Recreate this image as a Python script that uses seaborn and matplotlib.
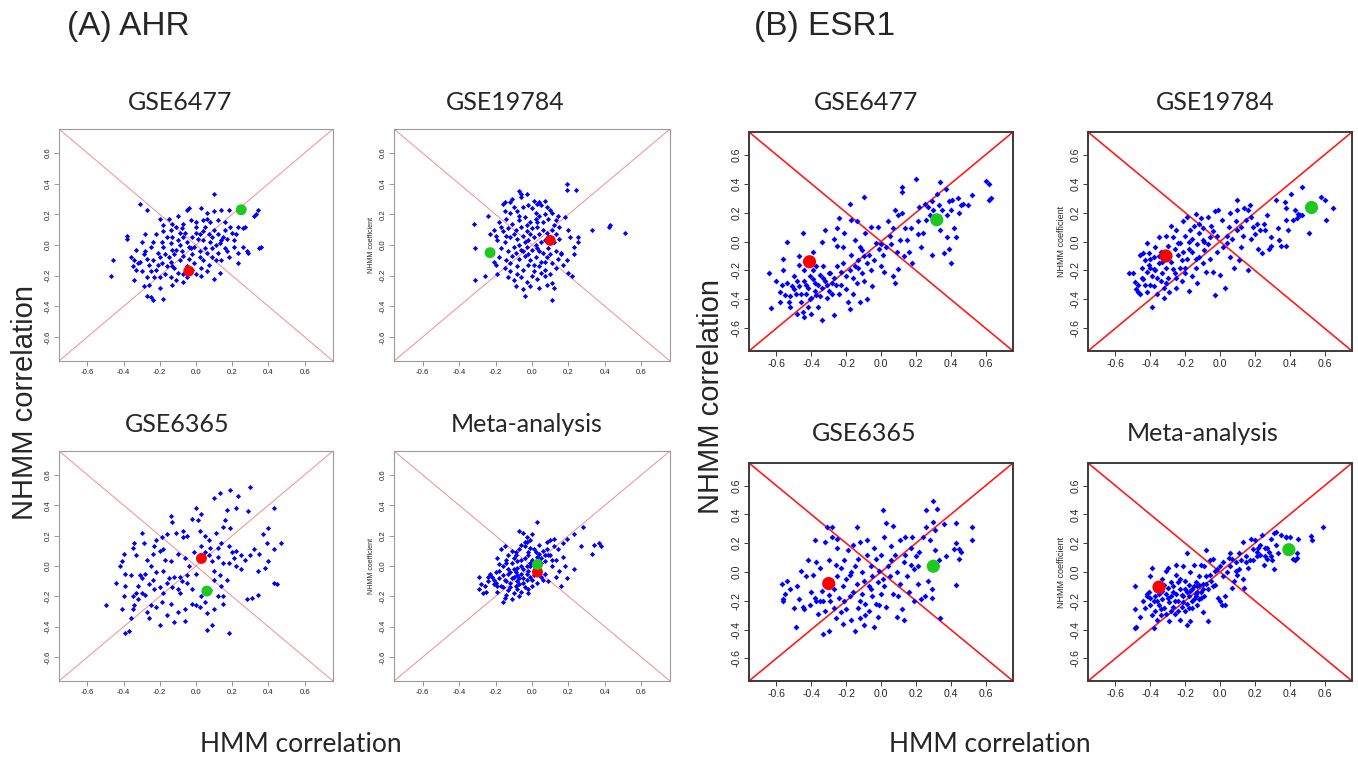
import numpy as np
import pandas as pd
import matplotlib
matplotlib.use('Agg')
import matplotlib.pyplot as plt
import seaborn as sns

sns.set_theme(style='white')
plt.rcParams['font.family'] = ['Liberation Sans', 'DejaVu Sans']

W, H = 1358, 762

# ---- data: (HMM correlation, NHMM coefficient) per gene set ----
ahr_gse6477 = [
    (-0.47, -0.20), (-0.46, -0.10), (-0.38, 0.06), (-0.38, 0.04), (-0.31, 0.27), (-0.27, 0.23), (-0.20, 0.17),
    (-0.15, 0.17), (-0.10, 0.19), (-0.05, 0.23), (-0.04, 0.24), (0.03, 0.24), (0.10, 0.33), (0.10, 0.22),
    (0.14, 0.23), (0.18, 0.23), (0.34, 0.23), (0.32, 0.19), (0.23, 0.12), (0.35, -0.02), (0.36, -0.01),
    (0.28, -0.04), (0.23, -0.12), (0.10, -0.22), (0.13, -0.18), (0.03, -0.20), (0.00, -0.19), (-0.07, -0.24),
    (-0.11, -0.23), (-0.13, -0.26), (-0.18, -0.35), (-0.24, -0.36), (-0.25, -0.34), (-0.27, -0.33),
    (-0.29, -0.27), (-0.34, -0.23), (-0.35, -0.14), (-0.36, -0.08), (-0.33, -0.03), (-0.31, -0.11),
    (-0.26, -0.13), (-0.24, -0.10), (-0.21, -0.05), (-0.18, -0.01), (-0.16, 0.05), (-0.14, 0.10),
    (-0.11, 0.12), (-0.07, 0.14), (-0.03, 0.16), (0.00, 0.12), (0.04, 0.09), (0.07, 0.07), (0.10, 0.10),
    (0.16, 0.10), (0.17, 0.04), (0.13, 0.01), (0.09, -0.02), (0.06, -0.05), (0.02, -0.04), (-0.01, -0.01),
    (-0.05, 0.02), (-0.09, 0.00), (-0.13, -0.03), (-0.15, -0.08), (-0.19, -0.12), (-0.22, -0.16),
    (-0.17, -0.19), (-0.13, -0.14), (-0.09, -0.10), (-0.04, -0.09), (-0.01, -0.12), (0.04, -0.10),
    (0.09, -0.08), (0.12, -0.05), (0.17, -0.04), (0.21, -0.01), (0.21, 0.03), (0.22, 0.07), (0.26, -0.01),
    (0.12, 0.16), (0.06, 0.17), (0.00, 0.15), (-0.14, 0.01), (-0.25, -0.01), (-0.28, -0.04), (-0.25, -0.17),
    (-0.27, -0.21), (-0.33, -0.16), (-0.20, -0.21), (-0.16, -0.14), (-0.05, -0.14), (-0.02, -0.16),
    (-0.13, 0.05), (-0.07, 0.05), (0.04, 0.03), (0.09, 0.05), (0.15, 0.05), (-0.03, -0.02), (0.02, 0.07),
    (-0.28, 0.07), (-0.22, 0.07), (-0.19, 0.02), (-0.12, -0.06), (-0.08, -0.04), (-0.06, 0.08), (0.01, 0.04),
    (0.05, 0.12), (0.08, 0.15), (0.12, 0.07), (0.14, -0.10), (0.18, -0.08), (0.20, 0.08), (0.03, -0.15),
    (-0.02, -0.06), (-0.10, -0.18), (-0.14, -0.21), (-0.23, -0.21), (-0.30, -0.17), (-0.32, -0.12),
    (-0.29, -0.06), (-0.26, -0.26), (-0.20, -0.28), (-0.07, -0.19), (0.07, -0.13), (0.11, 0.00),
    (0.16, 0.15), (0.06, 0.21), (-0.13, 0.14), (-0.18, 0.09), (-0.09, 0.08), (0.00, 0.08), (0.27, 0.12),
    (0.26, 0.11), (0.33, 0.20), (0.23, -0.05), (0.29, -0.05),
    (-0.24, 0.02), (-0.21, -0.13), (-0.17, -0.06), (-0.14, -0.11), (-0.11, -0.03), (-0.10, 0.03),
    (-0.07, -0.07), (-0.04, -0.01), (-0.02, 0.05), (0.02, -0.08), (0.05, -0.02), (0.08, 0.02), (0.11, -0.10),
    (0.14, 0.03), (0.16, -0.02), (-0.18, 0.13), (-0.08, 0.11), (0.04, 0.16), (-0.27, -0.09), (-0.20, -0.08),
    (-0.12, -0.15), (-0.05, -0.21), (0.06, -0.17), (0.19, 0.12), (-0.34, -0.10), (-0.30, 0.02),
]
ahr_gse19784 = [
    (-0.32, 0.14), (-0.31, -0.02), (-0.31, -0.23), (-0.26, -0.20), (-0.24, 0.19), (-0.23, 0.07), (-0.20, 0.06),
    (-0.21, -0.11), (-0.19, -0.19), (0.19, 0.40), (0.19, 0.36), (0.24, 0.36), (0.33, 0.10), (0.42, 0.12),
    (0.43, 0.13), (0.51, 0.08), (0.18, 0.18), (0.20, 0.10), (0.21, 0.05), (0.25, 0.05), (0.25, 0.02),
    (0.23, -0.01), (0.23, -0.06), (0.22, -0.20), (0.20, -0.18), (0.19, -0.10), (0.16, -0.05), (0.11, -0.36),
    (-0.04, -0.33), (-0.07, 0.35), (-0.06, 0.33), (-0.03, 0.33), (-0.15, 0.28), (-0.12, 0.28), (0.03, 0.27),
    (0.07, 0.29), (0.04, 0.28), (0.10, 0.23),
    (-0.15, 0.22), (-0.12, 0.21), (-0.10, 0.25), (-0.08, 0.22), (-0.05, 0.25), (-0.02, 0.26), (0.00, 0.24),
    (0.02, 0.21), (0.05, 0.26), (0.08, 0.25), (-0.18, 0.15), (-0.14, 0.17), (-0.11, 0.14), (-0.07, 0.16),
    (-0.04, 0.18), (-0.01, 0.15), (0.02, 0.17), (0.04, 0.19), (0.06, 0.15), (0.09, 0.17), (0.12, 0.13),
    (0.14, 0.19), (-0.16, 0.09), (-0.13, 0.11), (-0.09, 0.10), (-0.06, 0.12), (-0.03, 0.09), (0.00, 0.11),
    (0.03, 0.12), (0.06, 0.10), (0.08, 0.08), (0.11, 0.10), (0.13, 0.07), (-0.19, 0.03), (-0.15, 0.02),
    (-0.12, 0.05), (-0.08, 0.04), (-0.05, 0.06), (-0.02, 0.03), (0.01, 0.05), (0.04, 0.07), (0.07, 0.03),
    (0.12, 0.02), (0.15, 0.04), (-0.17, -0.02), (-0.13, -0.04), (-0.10, -0.01), (-0.06, -0.03),
    (-0.03, -0.01), (0.00, -0.03), (0.03, -0.02), (0.06, -0.05), (0.09, -0.02), (0.13, -0.04), (0.16, -0.06),
    (-0.18, -0.08), (-0.14, -0.10), (-0.11, -0.07), (-0.07, -0.09), (-0.04, -0.07), (-0.01, -0.10),
    (0.02, -0.08), (0.05, -0.11), (0.08, -0.08), (0.11, -0.12), (0.14, -0.09), (-0.15, -0.15), (-0.12, -0.17),
    (-0.08, -0.14), (-0.05, -0.16), (-0.02, -0.13), (0.01, -0.17), (0.04, -0.14), (0.07, -0.16),
    (0.10, -0.19), (0.13, -0.15), (-0.13, -0.21), (-0.10, -0.23), (-0.06, -0.21), (-0.03, -0.24),
    (0.00, -0.20), (0.03, -0.22), (0.07, -0.20), (0.11, -0.25), (-0.09, -0.27), (-0.05, -0.29),
    (-0.01, -0.27), (0.04, -0.28), (0.08, -0.26), (-0.11, 0.30), (-0.06, 0.31), (0.01, 0.29), (-0.16, 0.27),
    (0.11, 0.21), (0.15, 0.12), (-0.21, 0.10), (-0.20, -0.13), (0.17, -0.13), (0.12, -0.28),
    (-0.14, 0.06), (-0.10, 0.07), (-0.07, 0.00), (-0.04, 0.02), (-0.01, 0.07), (0.02, 0.00), (0.05, 0.02),
    (0.09, 0.05), (-0.09, -0.05), (-0.05, -0.04), (-0.02, -0.06), (0.01, -0.13), (0.04, -0.04), (0.07, -0.11),
    (-0.07, 0.19), (-0.03, 0.13), (0.03, 0.15), (0.07, 0.20), (-0.12, -0.12), (0.10, -0.06), (-0.08, -0.19),
    (0.05, -0.18), (0.13, 0.16), (-0.17, 0.12),
]
ahr_gse6365 = [
    (-0.50, -0.26), (-0.44, -0.11), (-0.42, 0.00), (-0.41, 0.03), (-0.40, 0.08), (-0.39, -0.05), (-0.39, -0.13),
    (-0.40, -0.20), (-0.41, -0.28), (-0.39, -0.44), (-0.37, -0.43), (-0.36, -0.34), (-0.35, -0.28),
    (-0.34, -0.26), (-0.35, 0.12), (-0.33, 0.07), (-0.31, -0.06), (-0.32, -0.13), (-0.30, -0.18),
    (-0.32, -0.22), (-0.30, 0.22), (-0.29, 0.15), (-0.28, -0.05), (-0.27, -0.30), (-0.26, -0.34),
    (-0.25, -0.26), (-0.24, 0.08), (-0.24, -0.09), (-0.23, -0.15), (-0.22, 0.17), (-0.20, -0.39),
    (-0.19, 0.19), (-0.18, 0.11), (-0.17, 0.04), (-0.18, -0.03), (-0.16, -0.11), (-0.19, -0.24),
    (-0.16, -0.32), (-0.14, 0.33), (-0.13, 0.29), (-0.12, -0.37), (-0.11, 0.22), (-0.10, 0.08), (-0.09, -0.07),
    (-0.09, -0.18), (-0.07, 0.23), (-0.06, -0.36), (-0.05, 0.20), (-0.04, 0.00), (-0.05, -0.11), (-0.02, 0.31),
    (-0.02, -0.25), (-0.01, 0.09), (0.00, 0.38), (0.01, 0.30), (0.02, 0.23), (0.03, 0.34), (0.03, -0.20),
    (0.02, -0.27), (0.06, -0.31), (0.06, -0.42), (0.07, 0.17), (0.09, 0.03), (0.09, -0.39), (0.10, -0.28),
    (0.10, -0.09), (0.10, 0.45), (0.11, 0.22), (0.12, 0.06), (0.13, 0.48), (0.14, -0.13), (0.15, -0.20),
    (0.15, 0.26), (0.17, 0.37), (0.17, -0.09), (0.18, 0.13), (0.18, -0.44), (0.19, 0.25), (0.19, 0.50),
    (0.21, 0.05), (0.22, 0.38), (0.22, 0.00), (0.22, 0.10), (0.23, 0.46), (0.25, 0.07), (0.27, 0.04),
    (0.28, -0.22), (0.29, 0.36), (0.30, 0.52), (0.31, -0.21), (0.32, 0.11), (0.34, -0.19), (0.34, -0.03),
    (0.35, 0.08), (0.37, 0.21), (0.38, -0.01), (0.39, 0.15), (0.40, 0.03), (0.40, 0.25), (0.43, 0.11),
    (0.43, 0.38), (0.43, -0.11), (0.45, -0.12), (0.47, 0.15),
    (-0.12, -0.07), (-0.15, -0.08), (-0.08, -0.10), (-0.13, -0.14), (-0.10, -0.15), (-0.05, -0.06),
    (-0.02, -0.15), (0.00, -0.26), (0.05, 0.09), (0.08, 0.12), (0.12, 0.12), (0.15, 0.02), (0.18, 0.02),
    (0.20, 0.09), (0.10, -0.03), (0.13, -0.06), (0.08, -0.16), (0.12, -0.20), (0.15, -0.25), (-0.20, 0.10),
    (-0.22, -0.04), (-0.26, -0.12), (-0.28, -0.19), (-0.33, -0.18), (-0.36, -0.06), (-0.34, 0.15),
    (-0.27, 0.04), (-0.07, 0.19), (-0.16, 0.21), (0.03, 0.13), (-0.18, -0.18), (-0.14, -0.25), (-0.22, -0.27),
    (-0.06, -0.28), (0.05, -0.24),
    (-0.30, -0.08), (-0.25, 0.00), (-0.20, -0.14), (-0.14, 0.03), (-0.06, 0.05), (0.00, -0.05), (0.07, 0.07),
    (0.14, 0.15), (0.25, -0.02), (-0.35, -0.20), (-0.10, -0.30), (0.05, 0.20), (-0.23, 0.13), (0.16, 0.30),
    (0.30, 0.07),
]
ahr_meta = [
    (-0.29, -0.07), (-0.29, -0.15), (-0.28, -0.12), (-0.27, -0.18), (-0.25, -0.17), (-0.24, -0.07),
    (-0.23, -0.05), (-0.21, -0.09), (-0.20, -0.11), (-0.19, 0.05), (-0.19, -0.17), (-0.18, -0.03),
    (-0.18, 0.01), (-0.17, 0.11), (-0.17, -0.13), (-0.16, -0.24), (-0.16, -0.06), (-0.15, 0.13),
    (-0.15, -0.21), (-0.14, 0.04), (-0.14, -0.10), (-0.13, 0.07), (-0.13, -0.02), (-0.12, -0.14),
    (-0.11, 0.10), (-0.11, 0.02), (-0.10, -0.07), (-0.10, -0.18), (-0.09, 0.07), (-0.08, -0.01),
    (-0.08, -0.10), (-0.07, 0.23), (-0.07, 0.11), (-0.07, -0.20), (-0.06, 0.04), (-0.06, -0.05),
    (-0.05, 0.22), (-0.05, -0.11), (-0.04, 0.13), (-0.03, 0.00), (-0.03, 0.16), (-0.02, -0.15), (-0.02, 0.07),
    (-0.01, -0.07), (-0.01, 0.17), (-0.01, 0.02), (0.00, -0.13), (0.01, 0.11), (0.02, -0.03), (0.03, 0.29),
    (0.03, 0.06), (0.03, -0.11), (0.04, 0.14), (0.05, -0.07), (0.06, 0.10), (0.07, 0.03), (0.07, -0.05),
    (0.08, 0.16), (0.09, 0.07), (0.09, -0.10), (0.10, 0.17), (0.11, 0.00), (0.12, 0.13), (0.12, 0.18),
    (0.13, 0.04), (0.13, -0.07), (0.14, 0.11), (0.15, -0.03), (0.16, -0.13), (0.17, 0.15), (0.17, 0.06),
    (0.18, 0.00), (0.19, 0.18), (0.19, -0.08), (0.23, -0.02), (0.23, 0.21), (0.27, 0.13), (0.28, 0.26),
    (0.33, 0.08), (0.34, 0.14), (0.37, 0.15), (0.38, 0.13),
    (-0.12, -0.04), (-0.09, -0.04), (-0.05, -0.02), (-0.02, -0.03), (0.00, 0.04), (-0.04, 0.05),
    (-0.08, 0.03), (-0.11, -0.08), (-0.07, -0.08), (-0.03, -0.09), (0.01, -0.06), (-0.15, -0.09),
    (-0.18, -0.08), (-0.13, -0.16), (-0.09, -0.13), (-0.04, -0.14), (-0.06, -0.17), (0.02, 0.09),
    (0.05, 0.02), (-0.01, 0.12), (-0.06, 0.14), (-0.10, 0.05), (-0.16, 0.00), (-0.21, -0.12), (-0.14, -0.19),
    (-0.11, -0.22), (0.08, 0.11), (0.10, 0.07), (0.04, -0.02), (-0.02, -0.18), (0.00, 0.21), (-0.03, 0.19),
    (0.05, 0.05), (-0.20, -0.04), (-0.24, -0.10), (-0.07, -0.12), (0.06, -0.09),
    (-0.10, -0.02), (-0.06, 0.00), (-0.03, -0.05), (-0.01, 0.00), (-0.08, -0.06), (-0.13, -0.05),
    (-0.16, -0.14), (-0.12, -0.11), (-0.05, -0.08), (-0.02, 0.09), (0.02, 0.01), (0.04, 0.08), (-0.09, 0.09),
    (-0.14, 0.02), (-0.19, -0.13), (-0.22, -0.07), (-0.08, -0.15), (0.00, -0.09), (0.07, 0.07), (0.11, 0.04),
    (-0.04, 0.16), (-0.26, -0.13),
]
esr1_gse6477 = [
    (-0.64, -0.22), (-0.63, -0.46), (-0.60, -0.27), (-0.58, -0.35), (-0.58, -0.42), (-0.56, -0.12),
    (-0.56, -0.20), (-0.55, -0.37), (-0.54, -0.29), (-0.54, 0.00), (-0.53, -0.42), (-0.52, -0.45),
    (-0.51, -0.31), (-0.50, -0.24), (-0.49, -0.36), (-0.48, -0.50), (-0.47, -0.31), (-0.47, -0.10),
    (-0.47, -0.16), (-0.46, -0.42), (-0.45, 0.06), (-0.45, -0.49), (-0.44, -0.52), (-0.44, -0.20),
    (-0.43, -0.30), (-0.43, -0.36), (-0.42, -0.45), (-0.41, -0.24), (-0.40, -0.39), (-0.40, -0.50),
    (-0.39, -0.07), (-0.39, -0.20), (-0.38, -0.29), (-0.37, -0.37), (-0.37, -0.17), (-0.36, -0.45),
    (-0.35, -0.23), (-0.34, -0.32), (-0.34, -0.54), (-0.34, 0.00), (-0.33, -0.17), (-0.32, -0.27),
    (-0.32, 0.08), (-0.31, -0.39), (-0.30, -0.34), (-0.29, -0.22), (-0.28, -0.29), (-0.27, 0.02),
    (-0.27, -0.51), (-0.26, -0.30), (-0.25, -0.03), (-0.25, -0.17), (-0.25, 0.09), (-0.24, 0.16),
    (-0.24, -0.36), (-0.23, -0.21), (-0.22, -0.04), (-0.21, 0.06), (-0.20, -0.24), (-0.19, -0.42),
    (-0.18, -0.47), (-0.18, 0.26), (-0.17, -0.09), (-0.17, 0.15), (-0.16, -0.36), (-0.15, 0.01),
    (-0.15, -0.17), (-0.14, 0.14), (-0.14, -0.29), (-0.13, -0.13), (-0.12, -0.42), (-0.12, -0.04),
    (-0.11, -0.22), (-0.11, -0.06), (-0.10, -0.27), (-0.10, 0.31), (-0.09, 0.06), (-0.08, -0.15),
    (-0.08, -0.40), (-0.07, -0.09), (-0.06, 0.10), (-0.05, -0.31), (-0.04, -0.13), (-0.03, -0.01),
    (-0.02, 0.10), (-0.01, -0.05), (0.00, -0.17), (0.01, -0.09), (0.02, -0.21), (0.03, -0.04), (0.04, 0.14),
    (0.06, -0.02), (0.07, -0.24), (0.07, 0.09), (0.08, 0.22), (0.08, -0.29), (0.09, -0.07), (0.10, 0.18),
    (0.10, -0.19), (0.11, 0.01), (0.12, 0.38), (0.12, 0.34), (0.12, 0.20), (0.13, -0.10), (0.14, 0.09),
    (0.15, 0.01), (0.16, -0.07), (0.17, 0.09), (0.18, -0.15), (0.20, 0.43), (0.21, 0.05), (0.21, 0.14),
    (0.22, 0.24), (0.23, -0.04), (0.24, 0.06), (0.25, 0.26), (0.26, 0.15), (0.27, 0.24), (0.29, -0.09),
    (0.29, 0.28), (0.30, 0.22), (0.32, 0.33), (0.34, 0.08), (0.34, 0.41), (0.35, 0.22), (0.36, -0.08),
    (0.37, 0.36), (0.38, 0.18), (0.38, 0.03), (0.39, 0.28), (0.39, -0.05), (0.40, -0.15), (0.41, 0.29),
    (0.42, 0.09), (0.43, 0.03), (0.44, 0.30), (0.46, 0.25), (0.47, 0.26), (0.50, 0.25), (0.52, 0.32),
    (0.60, 0.42), (0.62, 0.40), (0.62, 0.29), (0.63, 0.30),
    (-0.52, -0.38), (-0.50, -0.33), (-0.48, -0.27), (-0.46, -0.36), (-0.44, -0.27), (-0.42, -0.32),
    (-0.41, -0.40), (-0.39, -0.26), (-0.38, -0.34), (-0.36, -0.30), (-0.35, -0.38), (-0.33, -0.25),
    (-0.31, -0.30), (-0.30, -0.22), (-0.28, -0.36), (-0.27, -0.25), (-0.23, -0.30), (-0.22, -0.15),
    (-0.20, -0.33), (-0.18, -0.20), (-0.16, -0.25), (-0.13, -0.18), (-0.10, -0.10), (-0.06, -0.20),
    (0.00, -0.02), (0.05, 0.04), (0.28, 0.18), (0.33, 0.25), (0.40, 0.22), (0.45, 0.20), (-0.57, -0.30),
    (-0.43, -0.12),
]
esr1_gse19784 = [
    (-0.52, -0.22), (-0.50, -0.22), (-0.49, -0.28), (-0.48, -0.33), (-0.47, -0.35), (-0.46, -0.09),
    (-0.46, -0.36), (-0.45, -0.18), (-0.44, -0.26), (-0.44, -0.08), (-0.43, -0.13), (-0.42, -0.35),
    (-0.42, -0.01), (-0.42, -0.21), (-0.41, -0.08), (-0.40, -0.30), (-0.40, -0.18), (-0.39, -0.45),
    (-0.39, -0.24), (-0.38, -0.11), (-0.38, -0.31), (-0.37, -0.20), (-0.37, -0.04), (-0.36, -0.36),
    (-0.35, -0.15), (-0.35, 0.03), (-0.34, -0.27), (-0.34, -0.07), (-0.33, -0.22), (-0.32, -0.39),
    (-0.31, 0.04), (-0.31, -0.18), (-0.31, -0.29), (-0.30, -0.03), (-0.29, -0.35), (-0.28, 0.11),
    (-0.28, -0.14), (-0.27, 0.03), (-0.26, -0.22), (-0.26, -0.05), (-0.25, 0.08), (-0.25, -0.32),
    (-0.24, -0.09), (-0.23, -0.18), (-0.23, -0.01), (-0.22, -0.27), (-0.21, 0.14), (-0.21, -0.07),
    (-0.20, 0.04), (-0.20, -0.22), (-0.19, 0.17), (-0.19, -0.12), (-0.18, -0.34), (-0.18, 0.00),
    (-0.17, 0.08), (-0.16, -0.24), (-0.16, -0.07), (-0.15, 0.11), (-0.14, -0.18), (-0.14, 0.19),
    (-0.13, -0.02), (-0.13, -0.29), (-0.12, 0.06), (-0.12, -0.11), (-0.11, 0.16), (-0.10, 0.01),
    (-0.10, -0.15), (-0.10, 0.09), (-0.09, -0.06), (-0.08, -0.21), (-0.07, 0.17), (-0.06, 0.03),
    (-0.06, -0.12), (-0.05, 0.11), (-0.04, -0.21), (-0.03, -0.37), (-0.03, 0.21), (-0.02, 0.04),
    (-0.02, -0.07), (-0.01, 0.22), (0.00, -0.23), (0.01, 0.15), (0.02, -0.04), (0.03, -0.32), (0.04, 0.04),
    (0.05, 0.10), (0.06, 0.20), (0.06, -0.11), (0.07, 0.02), (0.08, -0.18), (0.09, 0.14), (0.10, 0.22),
    (0.10, 0.29), (0.10, 0.08), (0.11, -0.13), (0.12, -0.04), (0.13, 0.04), (0.14, 0.23), (0.15, 0.15),
    (0.16, -0.20), (0.16, 0.22), (0.17, 0.25), (0.18, 0.02), (0.19, 0.10), (0.20, 0.05), (0.21, 0.12),
    (0.22, -0.05), (0.23, 0.08), (0.24, -0.08), (0.26, 0.08), (0.27, 0.18), (0.28, -0.05), (0.29, 0.03),
    (0.29, -0.03), (0.32, 0.29), (0.33, 0.09), (0.34, 0.01), (0.35, -0.03), (0.37, 0.27), (0.38, 0.15),
    (0.38, 0.23), (0.38, -0.03), (0.39, 0.08), (0.41, 0.33), (0.42, 0.15), (0.43, 0.22), (0.44, 0.16),
    (0.45, 0.19), (0.46, 0.18), (0.47, 0.38), (0.47, 0.18), (0.51, 0.06), (0.58, 0.31), (0.60, 0.29),
    (0.61, 0.15), (0.65, 0.23),
    (-0.45, -0.25), (-0.43, -0.30), (-0.41, -0.16), (-0.40, -0.12), (-0.38, -0.19), (-0.36, -0.25),
    (-0.35, -0.10), (-0.33, -0.14), (-0.32, -0.32), (-0.30, -0.25), (-0.29, -0.10), (-0.27, -0.19),
    (-0.25, -0.25), (-0.24, -0.01), (-0.22, -0.13), (-0.20, -0.18), (-0.18, -0.05), (-0.16, 0.02),
    (-0.14, -0.12), (-0.12, 0.12), (-0.09, 0.00), (-0.07, -0.02), (-0.04, 0.07), (0.04, -0.01), (0.12, 0.10),
    (0.18, 0.17), (0.25, 0.12), (-0.47, -0.30),
]
esr1_gse6365 = [
    (-0.57, -0.08), (-0.56, -0.19), (-0.56, -0.20), (-0.55, -0.15), (-0.54, -0.06), (-0.52, -0.12),
    (-0.50, -0.25), (-0.49, -0.38), (-0.48, -0.10), (-0.47, -0.19), (-0.46, 0.01), (-0.45, -0.24),
    (-0.44, -0.26), (-0.43, -0.03), (-0.42, 0.08), (-0.41, -0.23), (-0.39, -0.02), (-0.38, 0.22),
    (-0.38, -0.18), (-0.37, 0.07), (-0.37, -0.20), (-0.36, -0.29), (-0.35, 0.03), (-0.35, -0.20),
    (-0.34, -0.13), (-0.33, -0.43), (-0.32, 0.21), (-0.32, -0.27), (-0.31, 0.31), (-0.30, -0.16),
    (-0.30, -0.41), (-0.30, 0.08), (-0.29, -0.20), (-0.28, 0.24), (-0.28, 0.31), (-0.27, -0.12),
    (-0.27, -0.25), (-0.26, -0.32), (-0.25, 0.17), (-0.25, -0.03), (-0.25, 0.23), (-0.24, -0.18),
    (-0.23, -0.28), (-0.23, 0.03), (-0.22, -0.36), (-0.22, -0.10), (-0.21, 0.08), (-0.20, -0.05),
    (-0.20, -0.26), (-0.19, 0.15), (-0.18, -0.17), (-0.18, -0.02), (-0.17, -0.33), (-0.16, 0.19),
    (-0.16, -0.14), (-0.15, -0.41), (-0.15, 0.04), (-0.14, -0.08), (-0.14, 0.31), (-0.13, -0.25),
    (-0.13, 0.09), (-0.12, -0.32), (-0.12, 0.21), (-0.11, -0.15), (-0.11, 0.00), (-0.10, -0.37),
    (-0.10, -0.06), (-0.09, -0.22), (-0.08, 0.22), (-0.08, 0.12), (-0.07, -0.10), (-0.07, -0.27),
    (-0.06, 0.04), (-0.05, -0.17), (-0.05, -0.03), (-0.04, -0.38), (-0.04, 0.17), (-0.03, -0.22),
    (-0.03, 0.09), (-0.02, -0.07), (-0.02, -0.31), (-0.01, 0.01), (0.00, -0.15), (0.00, 0.12), (0.01, 0.43),
    (0.02, 0.24), (0.02, -0.10), (0.03, 0.34), (0.03, -0.24), (0.04, 0.04), (0.05, -0.03), (0.06, 0.18),
    (0.07, 0.32), (0.07, -0.15), (0.08, 0.12), (0.09, -0.31), (0.09, 0.00), (0.11, 0.22), (0.11, -0.08),
    (0.12, -0.26), (0.13, 0.07), (0.13, -0.33), (0.14, 0.24), (0.15, -0.03), (0.16, -0.14), (0.17, 0.17),
    (0.17, 0.05), (0.18, 0.24), (0.19, -0.20), (0.20, 0.11), (0.21, -0.08), (0.21, 0.04), (0.22, 0.14),
    (0.23, -0.19), (0.24, 0.24), (0.25, -0.17), (0.26, 0.31), (0.26, 0.43), (0.27, -0.06), (0.28, 0.22),
    (0.29, -0.18), (0.29, -0.12), (0.30, 0.49), (0.30, 0.35), (0.31, 0.15), (0.31, 0.29), (0.32, 0.44),
    (0.33, 0.08), (0.34, -0.32), (0.36, 0.33), (0.37, 0.11), (0.42, 0.16), (0.43, 0.20), (0.43, -0.09),
    (0.43, 0.34), (0.45, 0.16), (0.45, 0.09), (0.46, 0.14), (0.52, 0.31), (0.52, 0.22),
    (-0.33, -0.20), (-0.28, -0.08), (-0.21, -0.20), (-0.12, -0.20), (-0.06, -0.12), (0.01, -0.05),
    (0.06, 0.08), (0.14, 0.12), (-0.17, 0.00), (-0.09, -0.30), (0.10, -0.17), (0.19, 0.02), (-0.26, 0.05),
    (-0.40, -0.14), (-0.01, -0.23),
]
esr1_meta = [
    (-0.49, -0.10), (-0.49, -0.26), (-0.49, -0.39), (-0.48, -0.38), (-0.46, -0.31), (-0.43, -0.25),
    (-0.42, -0.17), (-0.42, -0.15), (-0.41, -0.14), (-0.40, -0.23), (-0.40, -0.03), (-0.39, -0.30),
    (-0.39, 0.03), (-0.38, -0.39), (-0.38, -0.20), (-0.37, -0.27), (-0.37, -0.17), (-0.36, -0.33),
    (-0.35, -0.23), (-0.35, -0.15), (-0.34, -0.30), (-0.33, -0.05), (-0.33, -0.19), (-0.32, -0.25),
    (-0.32, -0.09), (-0.31, 0.01), (-0.31, -0.15), (-0.31, -0.29), (-0.30, 0.03), (-0.30, -0.11),
    (-0.29, -0.21), (-0.29, -0.34), (-0.28, -0.07), (-0.28, -0.17), (-0.27, -0.24), (-0.27, -0.10),
    (-0.26, -0.29), (-0.25, -0.02), (-0.25, -0.15), (-0.25, 0.05), (-0.24, -0.20), (-0.24, -0.07),
    (-0.23, -0.33), (-0.23, -0.12), (-0.22, -0.24), (-0.21, 0.04), (-0.21, -0.17), (-0.20, -0.06),
    (-0.20, -0.27), (-0.19, -0.14), (-0.19, 0.13), (-0.19, -0.37), (-0.19, -0.22), (-0.18, -0.09),
    (-0.18, -0.17), (-0.17, -0.34), (-0.17, 0.00), (-0.16, -0.25), (-0.16, -0.12), (-0.15, -0.19),
    (-0.15, 0.05), (-0.14, -0.07), (-0.14, -0.15), (-0.13, -0.23), (-0.13, -0.10), (-0.12, -0.03),
    (-0.12, -0.19), (-0.11, 0.05), (-0.11, -0.14), (-0.10, -0.28), (-0.10, -0.08), (-0.09, -0.17),
    (-0.09, 0.04), (-0.08, 0.15), (-0.08, -0.03), (-0.07, -0.34), (-0.07, -0.12), (-0.06, 0.08),
    (-0.05, -0.06), (-0.04, 0.09), (-0.03, 0.01), (-0.03, -0.09), (-0.02, 0.02), (-0.01, -0.18),
    (0.00, 0.04), (0.00, -0.20), (0.01, -0.23), (0.02, -0.03), (0.02, 0.07), (0.03, -0.17), (0.03, -0.23),
    (0.04, 0.00), (0.05, 0.10), (0.06, 0.13), (0.06, 0.04), (0.07, -0.11), (0.07, 0.09), (0.08, -0.06),
    (0.09, 0.01), (0.09, 0.07), (0.10, -0.02), (0.11, 0.02), (0.11, 0.13), (0.12, 0.08), (0.13, -0.05),
    (0.13, 0.21), (0.14, -0.11), (0.15, 0.11), (0.16, 0.03), (0.17, 0.08), (0.18, 0.23), (0.19, 0.16),
    (0.19, 0.08), (0.20, 0.22), (0.21, 0.11), (0.22, 0.17), (0.23, 0.12), (0.23, 0.19), (0.24, 0.26),
    (0.25, 0.05), (0.26, 0.11), (0.27, 0.17), (0.27, 0.09), (0.28, 0.14), (0.29, 0.23), (0.30, 0.08),
    (0.31, 0.27), (0.31, 0.02), (0.32, 0.19), (0.32, 0.28), (0.33, 0.13), (0.35, 0.26), (0.38, 0.24),
    (0.38, 0.24), (0.40, 0.24), (0.42, 0.09), (0.43, 0.08), (0.44, 0.13), (0.45, 0.23), (0.44, 0.10),
    (0.52, 0.25), (0.53, 0.22), (0.59, 0.31),
    (-0.36, -0.20), (-0.34, -0.26), (-0.33, -0.13), (-0.30, -0.18), (-0.28, -0.27), (-0.27, -0.14),
    (-0.26, -0.20), (-0.24, -0.27), (-0.23, -0.05), (-0.22, -0.16), (-0.21, -0.21), (-0.20, -0.12),
    (-0.18, -0.25), (-0.17, -0.13), (-0.16, -0.20), (-0.15, -0.10), (-0.14, -0.17), (-0.13, -0.14),
    (-0.12, -0.09), (-0.11, -0.18), (-0.10, -0.12), (-0.08, -0.08), (-0.06, -0.02), (-0.04, -0.10),
    (-0.40, -0.18), (-0.44, -0.20), (0.15, 0.07), (0.21, 0.14), (0.26, 0.17), (0.29, 0.11),
]

# highlighted genes: (x, y) of red and green markers
red_pts = {'ahr_gse6477': (-0.04, -0.17), 'ahr_gse19784': (0.10, 0.03), 'ahr_gse6365': (0.03, 0.05),
           'ahr_meta': (0.03, -0.04), 'esr1_gse6477': (-0.41, -0.14), 'esr1_gse19784': (-0.31, -0.10),
           'esr1_gse6365': (-0.30, -0.08), 'esr1_meta': (-0.35, -0.105)}
green_pts = {'ahr_gse6477': (0.25, 0.23), 'ahr_gse19784': (-0.23, -0.05), 'ahr_gse6365': (0.06, -0.165),
             'ahr_meta': (0.03, 0.01), 'esr1_gse6477': (0.32, 0.15), 'esr1_gse19784': (0.525, 0.235),
             'esr1_gse6365': (0.30, 0.04), 'esr1_meta': (0.395, 0.155)}

ticks = [-0.6, -0.4, -0.2, 0.0, 0.2, 0.4, 0.6]
lim = 0.757

panels = [
    # name, data, title, box (left, top, right, bottom in px), group, show ylabel, title pos
    ('ahr_gse6477', ahr_gse6477, 'GSE6477', (59, 129, 333, 361), 'A', False, (180, 103)),
    ('ahr_gse19784', ahr_gse19784, 'GSE19784', (394, 129, 670, 361), 'A', True, (505, 103)),
    ('ahr_gse6365', ahr_gse6365, 'GSE6365', (59, 451, 333, 681), 'A', False, (177, 424)),
    ('ahr_meta', ahr_meta, 'Meta-analysis', (394, 451, 670, 681), 'A', True, (527, 424)),
    ('esr1_gse6477', esr1_gse6477, 'GSE6477', (749, 132, 1013, 351), 'B', False, (866, 103)),
    ('esr1_gse19784', esr1_gse19784, 'GSE19784', (1088, 132, 1352, 351), 'B', True, (1215, 103)),
    ('esr1_gse6365', esr1_gse6365, 'GSE6365', (749, 463, 1013, 681), 'B', False, (864, 434)),
    ('esr1_meta', esr1_meta, 'Meta-analysis', (1088, 463, 1352, 681), 'B', True, (1203, 434)),
]

styles = {
    'A': dict(frame='#9a9a9a', fw=0.8, line='#f48c8c', lw=0.7, tick=5.6, s=7, big=62, ylab=5.0),
    'B': dict(frame='#3a3a3a', fw=1.4, line='#ff1c1c', lw=1.2, tick=7.6, s=9, big=90, ylab=6.5),
}

fig = plt.figure(figsize=(W / 100, H / 100), dpi=100)
fig.patch.set_facecolor('white')

for name, pts, title, (l, t, r, b), grp, ylab, (tx, ty) in panels:
    st = styles[grp]
    ax = fig.add_axes([l / W, 1 - b / H, (r - l) / W, (b - t) / H])
    df = pd.DataFrame(pts, columns=['hmm', 'nhmm'])
    ax.axline((0, 0), slope=1, color=st['line'], lw=st['lw'], zorder=1)
    ax.axline((0, 0), slope=-1, color=st['line'], lw=st['lw'], zorder=1)
    sns.scatterplot(data=df, x='hmm', y='nhmm', ax=ax, marker='D', s=st['s'], color='#0000ff',
                    linewidth=0, zorder=2)
    hl = pd.DataFrame([red_pts[name], green_pts[name]], columns=['hmm', 'nhmm'])
    hl['gene'] = ['red', 'green']
    sns.scatterplot(data=hl, x='hmm', y='nhmm', hue='gene', palette={'red': '#ff0000', 'green': '#1ec81e'},
                    ax=ax, s=st['big'], linewidth=0, legend=False, zorder=3)
    ax.set_xlim(-lim, lim)
    ax.set_ylim(-lim, lim)
    ax.set_xticks(ticks)
    ax.set_yticks(ticks)
    ax.set_xticklabels([f'{v:.1f}' for v in ticks])
    ax.set_yticklabels([f'{v:.1f}' for v in ticks], rotation=90, va='center')
    ax.tick_params(axis='both', which='both', direction='out', length=3.5, width=0.7, color=st['frame'],
                   labelsize=st['tick'], pad=2, bottom=True, left=True)
    ax.set_xlabel('')
    ax.set_ylabel('NHMM coefficient' if ylab else '', fontsize=st['ylab'], labelpad=3)
    for sp in ax.spines.values():
        sp.set_color(st['frame'])
        sp.set_linewidth(st['fw'])
    fig.text(tx / W, 1 - ty / H, title, fontsize=18, family=['Lato', 'DejaVu Sans'],
             ha='center', va='center')

fig.text(67 / W, 1 - 26 / H, '(A) AHR', fontsize=24, ha='left', va='center')
fig.text(754 / W, 1 - 26 / H, '(B) ESR1', fontsize=24, ha='left', va='center')
fig.text(25 / W, 1 - 402 / H, 'NHMM correlation', fontsize=21, rotation=90, ha='center', va='center')
fig.text(711 / W, 1 - 397 / H, 'NHMM correlation', fontsize=21, rotation=90, ha='center', va='center')
fig.text(301 / W, 1 - 745 / H, 'HMM correlation', fontsize=19, family=['Lato', 'DejaVu Sans'],
         ha='center', va='center')
fig.text(990 / W, 1 - 745 / H, 'HMM correlation', fontsize=19, family=['Lato', 'DejaVu Sans'],
         ha='center', va='center')

fig.savefig('out.png', dpi=100, facecolor='white')
